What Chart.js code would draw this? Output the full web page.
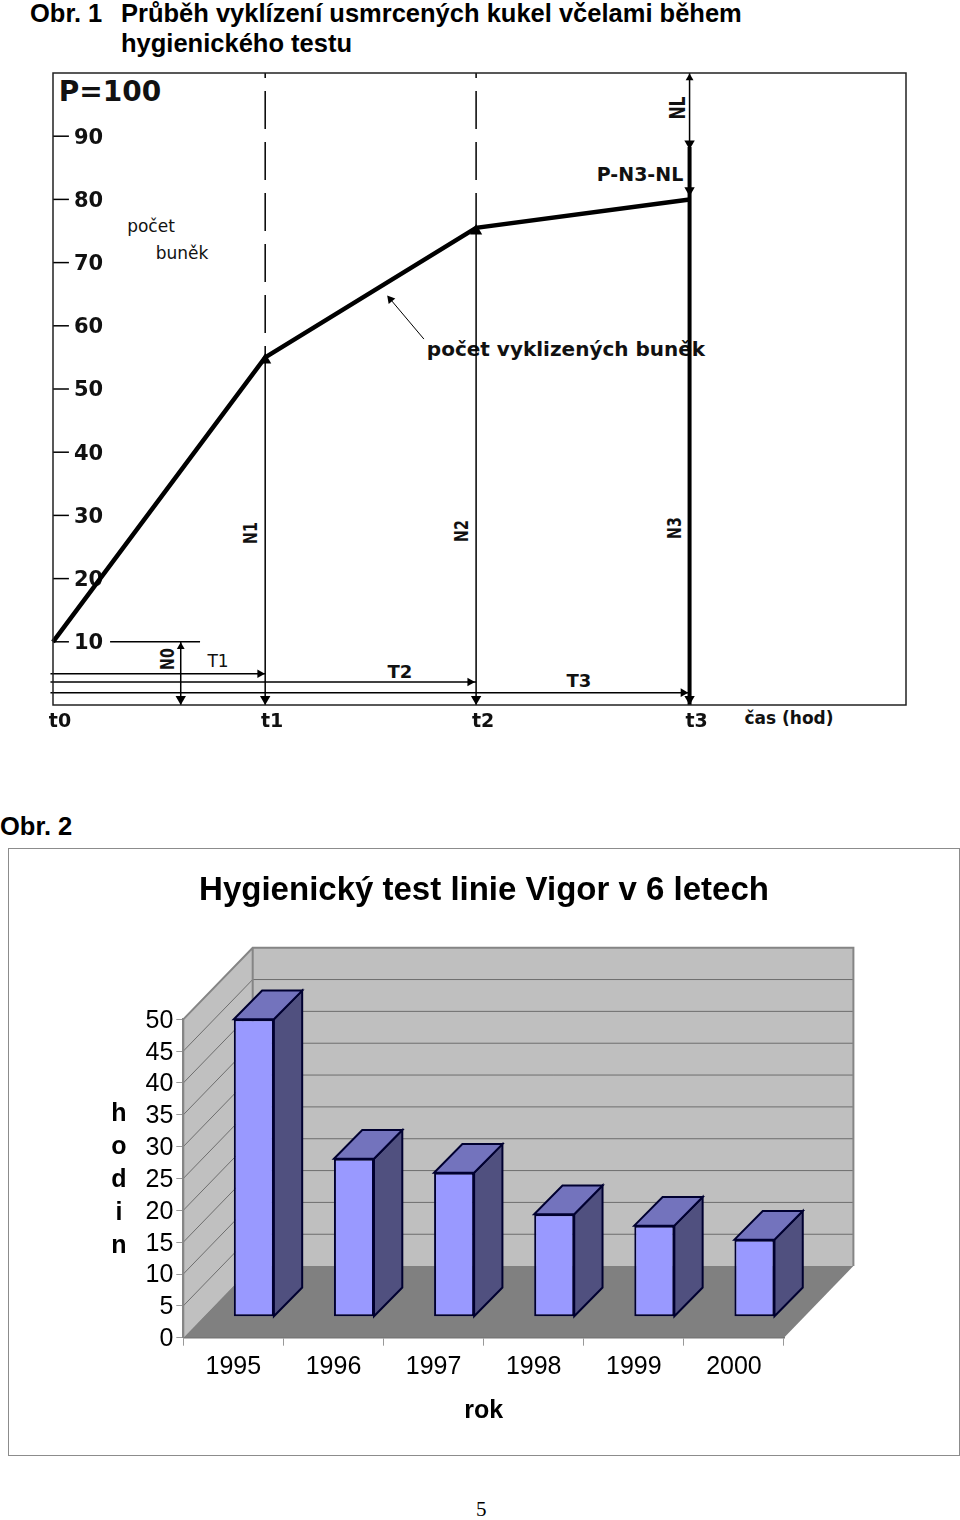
<!DOCTYPE html>
<html lang="cs">
<head>
<meta charset="utf-8">
<title>Obr. 1 a Obr. 2</title>
<script src="https://cdn.jsdelivr.net/npm/chart.js@4/dist/chart.umd.min.js"></script>
<style>
  html, body { margin: 0; background: #fff; }
  body { position: relative; width: 960px; height: 1520px; overflow: hidden; color: #000; }
  canvas { position: absolute; }
  .head { position: absolute; font: bold 25.5px/30px "Liberation Sans", Arial, sans-serif; white-space: nowrap; }
  .t { position: absolute; transform: translate(-50%, -50%); font: bold 19px "DejaVu Sans", sans-serif; white-space: nowrap; color: #111; }
  .r { transform: translate(-50%, -50%) rotate(-90deg) scaleX(.75); }
  .thin { font-weight: normal; font-size: 17px; }
  #frame2 { position: absolute; left: 8px; top: 848px; width: 950px; height: 606px; border: 1.5px solid #8c8c8c; }
  #hodin { position: absolute; left: 104px; top: 1096px; width: 30px; text-align: center; font: bold 25px/33px "Liberation Sans", Arial, sans-serif; }
  #page { position: absolute; left: 476px; top: 1497px; font: 21px "Liberation Serif", serif; }
</style>
</head>
<body>
<div class="head" style="left:30px;top:-2px">Obr. 1</div>
<div class="head" style="left:121px;top:-2px">Průběh vyklízení usmrcených kukel včelami během<br>hygienického testu</div>
<div class="head" style="left:0;top:811px">Obr. 2</div>

<div class="t" style="left:110px;top:91px;font-size:28px">P=100</div>
<div class="t thin" style="left:151px;top:226px">počet</div>
<div class="t thin" style="left:182px;top:253px">buněk</div>
<div class="t" style="left:566px;top:349px;font-size:20px">počet vyklizených buněk</div>
<div class="t" style="left:640px;top:174px">P-N3-NL</div>
<div class="t r" style="left:678px;top:108px;font-size:21px">NL</div>
<div class="t r" style="left:250px;top:533px">N1</div>
<div class="t r" style="left:461px;top:531px">N2</div>
<div class="t r" style="left:674px;top:528px">N3</div>
<div class="t r" style="left:167px;top:659px">N0</div>
<div class="t" style="left:218px;top:661px;font-size:17px;font-weight:normal">T1</div>
<div class="t" style="left:400px;top:671px;font-size:18px">T2</div>
<div class="t" style="left:579px;top:680px;font-size:18px">T3</div>
<div class="t" style="left:789px;top:718px;font-size:17px">čas (hod)</div>

<canvas id="graf1" style="left:0;top:60px" width="960" height="700"></canvas>

<div id="frame2"></div>
<canvas id="graf2" style="left:8px;top:848px" width="952" height="607"></canvas>
<div id="hodin">h<br>o<br>d<br>i<br>n</div>
<div id="page">5</div>

<script>
// Obr. 1 - prubeh vyklizeni
const timeTicks = [0, 1, 1.994, 3];
const timeLabels = ['t0', 't1', 't2', 't3'];
const clearedCells = [10, 55, 75.5, 80];
const cellTicks = [10, 20, 30, 40, 50, 60, 70, 80, 90];

// Obr. 2 - hygienicky test
const years = ['1995', '1996', '1997', '1998', '1999', '2000'];
const hours = [46.7, 24.8, 22.6, 16.1, 14.3, 12.1];

const BLACK = '#000';

function segment(x1, y1, x2, y2, width, extra) {
  return Object.assign({
    data: [{ x: x1, y: y1 }, { x: x2, y: y2 }],
    showLine: true,
    borderColor: BLACK,
    borderWidth: width,
    pointRadius: 0,
    clip: false
  }, extra);
}

function arrowHeads(points, rotation, radius) {
  return {
    data: points,
    showLine: false,
    pointStyle: 'triangle',
    pointRotation: rotation,
    pointRadius: radius,
    pointBackgroundColor: BLACK,
    pointBorderWidth: 0,
    clip: false
  };
}

// vynuluje okraje, ktere si osa rezervuje pro popisky
function noScaleMargins(s) {
  s.paddingTop = s.paddingBottom = s.paddingLeft = s.paddingRight = 0;
}

const dashed = { borderDash: [38, 13], borderDashOffset: 33 };
const datasets1 = [
  // krivka
  { data: timeTicks.map((t, i) => ({ x: t, y: clearedCells[i] })), showLine: true, borderColor: BLACK, borderWidth: 4.5, pointRadius: 0, clip: false },
  // svisle cary
  segment(1, 100, 1, 55, 1.5, dashed),
  segment(1.994, 100, 1.994, 75.5, 1.5, dashed),
  segment(1, 55, 1, 0, 1.5),
  segment(1.994, 75.5, 1.994, 0, 1.5),
  segment(3, 100, 3, 88.3, 1.5),
  segment(3, 88.3, 3, 0, 4),
  segment(0.602, 10, 0.602, 0, 1.5),
  // vodorovne cary T1, T2, T3
  segment(-0.012, 4.95, 1, 4.95, 1.5),
  segment(-0.012, 3.64, 1.994, 3.64, 1.5),
  segment(-0.012, 1.95, 3, 1.95, 1.5),
  segment(0.269, 10, 0.693, 10, 1.5),
  // sipka k popisku
  segment(1.748, 57.9, 1.59, 64.2, 1),
  // sipky
  arrowHeads([{ x: 0.602, y: 0.95 }, { x: 1, y: 0.95 }, { x: 1.994, y: 0.95 }, { x: 3, y: 0.95 }, { x: 3, y: 88.85 }, { x: 3, y: 81.45 }], 180, 6),
  arrowHeads([{ x: 0.975, y: 4.95 }, { x: 1.965, y: 3.64 }, { x: 2.97, y: 1.95 }], 90, 5),
  arrowHeads([{ x: 0.602, y: 9.2 }, { x: 3, y: 99.2 }], 0, 4.5),
  arrowHeads([{ x: 1, y: 54.6 }, { x: 1.994, y: 75 }], 0, 7),
  arrowHeads([{ x: 1.59, y: 64.2 }], -40, 5)
];
// carky na svisle ose
cellTicks.forEach(v => datasets1.push(segment(0, v, 0.075, v, 1.5)));

const framePlugin = {
  id: 'frame',
  afterDraw(chart) {
    const a = chart.chartArea;
    const ctx = chart.ctx;
    ctx.save();
    ctx.strokeStyle = '#222';
    ctx.lineWidth = 1.5;
    ctx.strokeRect(a.left, a.top, a.right - a.left, a.bottom - a.top);
    ctx.restore();
  }
};

new Chart(document.getElementById('graf1'), {
  type: 'scatter',
  data: { datasets: datasets1 },
  plugins: [framePlugin],
  options: {
    responsive: false,
    animation: false,
    layout: { padding: { left: 53, right: 54, top: 13, bottom: 25 } },
    plugins: { legend: { display: false }, tooltip: { enabled: false } },
    scales: {
      x: {
        type: 'linear',
        min: 0,
        max: 4.02,
        afterBuildTicks: s => { s.ticks = timeTicks.map(v => ({ value: v })); },
        afterFit: s => { s.height = 30; noScaleMargins(s); },
        grid: { display: false, drawTicks: false, tickLength: 0 },
        border: { display: false },
        ticks: {
          autoSkip: false,
          maxRotation: 0,
          padding: 6,
          labelOffset: 7,
          color: '#111',
          font: { family: '"DejaVu Sans", sans-serif', size: 19, weight: 'bold' },
          callback: (v, i) => timeLabels[i]
        }
      },
      y: {
        type: 'linear',
        min: 0,
        max: 100,
        afterBuildTicks: s => { s.ticks = cellTicks.map(v => ({ value: v })); },
        afterFit: s => { s.width = 0; noScaleMargins(s); },
        grid: { display: false, drawTicks: false, tickLength: 0 },
        border: { display: false },
        ticks: {
          mirror: true,
          padding: 21,
          labelOffset: 2,
          color: '#111',
          font: { family: '"DejaVu Sans", sans-serif', size: 21, weight: 'bold' }
        }
      }
    }
  }
});

// steny a podlaha 3D grafu
const WALL_DX = 69.4, WALL_DY = 71.6;
const BAR_SHIFT_X = 20.5, BAR_SHIFT_Y = 21;
const BAR_DX = 28.3, BAR_DY = 28.7;

function poly(ctx, pts, fill) {
  ctx.beginPath();
  pts.forEach((p, i) => (i ? ctx.lineTo(p[0], p[1]) : ctx.moveTo(p[0], p[1])));
  ctx.closePath();
  ctx.fillStyle = fill;
  ctx.fill();
}

const wallsPlugin = {
  id: 'walls',
  beforeDraw(chart) {
    const { left, right, top, bottom } = chart.chartArea;
    const ctx = chart.ctx;
    const yScale = chart.scales.y;
    ctx.save();
    poly(ctx, [[left, top], [left + WALL_DX, top - WALL_DY], [left + WALL_DX, bottom - WALL_DY], [left, bottom]], '#c0c0c0');
    poly(ctx, [[left + WALL_DX, top - WALL_DY], [right + WALL_DX, top - WALL_DY], [right + WALL_DX, bottom - WALL_DY], [left + WALL_DX, bottom - WALL_DY]], '#bfbfbf');
    poly(ctx, [[left, bottom], [left + WALL_DX, bottom - WALL_DY], [right + WALL_DX, bottom - WALL_DY], [right, bottom]], '#808080');

    // mrizka
    ctx.lineWidth = 1;
    ctx.strokeStyle = '#6e6e6e';
    yScale.ticks.forEach(t => {
      if (t.value === 0 || t.value === 50) return;
      const y = yScale.getPixelForValue(t.value);
      ctx.beginPath();
      ctx.moveTo(left, y);
      ctx.lineTo(left + WALL_DX, y - WALL_DY);
      ctx.lineTo(right + WALL_DX, y - WALL_DY);
      ctx.stroke();
    });

    // okraje
    ctx.lineWidth = 2;
    ctx.strokeStyle = '#858585';
    ctx.beginPath();
    ctx.moveTo(left, bottom);
    ctx.lineTo(left, top);
    ctx.lineTo(left + WALL_DX, top - WALL_DY);
    ctx.lineTo(right + WALL_DX, top - WALL_DY);
    ctx.lineTo(right + WALL_DX, bottom - WALL_DY);
    ctx.moveTo(left + WALL_DX, top - WALL_DY);
    ctx.lineTo(left + WALL_DX, bottom - WALL_DY);
    ctx.stroke();
    ctx.restore();
  }
};

const bars3dPlugin = {
  id: 'bars3d',
  beforeDatasetDraw(chart, args) {
    const ctx = chart.ctx;
    ctx.save();
    ctx.translate(BAR_SHIFT_X, -BAR_SHIFT_Y);
    ctx.lineWidth = 2;
    ctx.strokeStyle = '#000030';
    ctx.lineJoin = 'miter';
    args.meta.data.forEach(bar => {
      const l = bar.x - bar.width / 2, r = bar.x + bar.width / 2;
      const top = [[l, bar.y], [l + BAR_DX, bar.y - BAR_DY], [r + BAR_DX, bar.y - BAR_DY], [r, bar.y]];
      const side = [[r, bar.y], [r + BAR_DX, bar.y - BAR_DY], [r + BAR_DX, bar.base - BAR_DY], [r, bar.base]];
      poly(ctx, side, '#50507f');
      ctx.stroke();
      poly(ctx, top, '#7373bd');
      ctx.stroke();
    });
  },
  afterDatasetDraw(chart) {
    chart.ctx.restore();
  }
};

const arial = '"Liberation Sans", Arial, sans-serif';

new Chart(document.getElementById('graf2'), {
  type: 'bar',
  data: {
    labels: years,
    datasets: [{
      data: hours,
      backgroundColor: '#9999ff',
      borderColor: '#000030',
      borderWidth: 2,
      borderSkipped: false,
      barPercentage: 0.4,
      categoryPercentage: 1,
      clip: false
    }]
  },
  plugins: [wallsPlugin, bars3dPlugin],
  options: {
    responsive: false,
    animation: false,
    layout: { padding: { left: 135.3, right: 135.3, top: 0, bottom: 17.3 } },
    plugins: {
      legend: { display: false },
      tooltip: { enabled: false },
      title: {
        display: true,
        text: 'Hygienický test linie Vigor v 6 letech',
        color: '#000',
        font: { family: arial, size: 33, weight: 'bold', lineHeight: 1.2 },
        padding: { top: 23, bottom: 108.7 }
      }
    },
    scales: {
      x: {
        afterFit: s => { s.height = 100; },
        grid: { drawOnChartArea: false, color: '#999', tickLength: 8, offset: true },
        border: { color: '#777', width: 1.5 },
        ticks: { padding: 6, color: '#000', maxRotation: 0, font: { family: arial, size: 25 } },
        title: {
          display: true,
          text: 'rok',
          color: '#000',
          font: { family: arial, size: 25, weight: 'bold', lineHeight: 1.2 },
          padding: { top: 0, bottom: 11.7 }
        }
      },
      y: {
        min: 0,
        max: 50,
        afterFit: s => { s.width = 40; },
        grid: { drawOnChartArea: false, color: '#999', tickLength: 7 },
        border: { color: '#858585', width: 2 },
        ticks: { stepSize: 5, padding: 3, labelOffset: 1.5, autoSkip: false, color: '#000', font: { family: arial, size: 25 } }
      },
      // prazdna osa vpravo, aby nadpis zustal uprostred platna
      ySpacer: {
        position: 'right',
        afterFit: s => { s.width = 40.7; },
        grid: { display: false },
        border: { display: false },
        ticks: { display: false }
      }
    }
  }
});
</script>
</body>
</html>
